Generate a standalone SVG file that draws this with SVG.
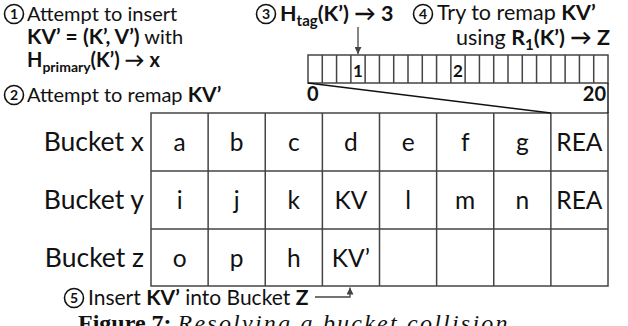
<svg xmlns="http://www.w3.org/2000/svg" width="628" height="326" viewBox="0 0 628 326">
<defs>
<style>
.t{font-family:Lato,"DejaVu Sans",sans-serif;fill:#111}
.h{font-size:20px}
.h2{font-size:21.5px}
.b{font-weight:bold}
.cell{font-size:24.5px;text-anchor:middle}
.lab{font-size:26.5px;text-anchor:end}
.num{font-size:17px;font-weight:bold;text-anchor:middle}
.circ{fill:none;stroke:#111;stroke-width:1.6}
.cn{font-size:14px;font-weight:bold;text-anchor:middle}
.grid{fill:none;stroke:#444;stroke-width:1.5}
.arr{fill:none;stroke:#444;stroke-width:1.3}
.ln{fill:none;stroke:#111;stroke-width:1.4}
</style>
<marker id="ah" viewBox="0 0 10 10" refX="10" refY="5" markerWidth="7" markerHeight="7" markerUnits="userSpaceOnUse" orient="auto">
<path d="M0,0 L10,5 L0,10 z" fill="#444"/>
</marker>
</defs>

<g id="step1">
<circle class="circ" cx="14" cy="14" r="9.5"/>
<text class="t cn" x="14" y="19">1</text>
<text class="t h" x="27" y="21">Attempt to insert</text>
<text class="t h" x="27" y="44"><tspan class="b" font-size="21">KV’ = (K’, V’)</tspan> with</text>
<text class="t h b" x="27" y="67">H<tspan font-size="14" dy="5">primary</tspan><tspan dy="-5">(K’) → x</tspan></text>
</g>

<g id="step2">
<circle class="circ" cx="14" cy="95" r="9.5"/>
<text class="t cn" x="14" y="100">2</text>
<text class="t h" x="27" y="102">Attempt to remap <tspan class="b" font-size="21">KV’</tspan></text>
</g>

<g id="step3">
<circle class="circ" cx="266" cy="14" r="9.5"/>
<text class="t cn" x="266" y="19">3</text>
<text class="t h2 b" x="280" y="21">H<tspan font-size="15" dy="5">tag</tspan><tspan dy="-5">(K’) → 3</tspan></text>
</g>

<g id="step4">
<circle class="circ" cx="423" cy="14" r="9.5"/>
<text class="t cn" x="423" y="19">4</text>
<text class="t h2" x="437" y="20">Try to remap <tspan class="b">KV’</tspan></text>
<text class="t h2" x="610" y="45" text-anchor="end">using <tspan class="b">R</tspan><tspan class="b" font-size="15" dy="5">1</tspan><tspan class="b" dy="-5">(K’) → Z</tspan></text>
</g>

<g id="tag-array">
<rect class="grid" x="308" y="55" width="300" height="28" stroke-width="1.2"/>
<path class="grid" stroke-width="1.2" d="M322.29 55V83M336.57 55V83M350.86 55V83M365.14 55V83M379.43 55V83M393.71 55V83M408 55V83M422.29 55V83M436.57 55V83M450.86 55V83M465.14 55V83M479.43 55V83M493.71 55V83M508 55V83M522.29 55V83M536.57 55V83M550.86 55V83M565.14 55V83M579.43 55V83M593.71 55V83"/>
<text class="t num" x="358" y="77">1</text>
<text class="t num" x="458" y="77">2</text>
<text class="t h b" x="307" y="101">0</text>
<text class="t h b" x="606" y="101" text-anchor="end">20</text>
</g>

<g id="table">
<rect class="grid" x="151" y="113" width="457" height="173"/>
<path class="grid" d="M151 171H608M151 229H608M208.13 113V286M265.25 113V286M322.38 113V286M379.5 113V286M436.63 113V286M493.75 113V286M550.88 113V286"/>
<text class="t lab" x="144" y="151">Bucket x</text>
<text class="t lab" x="144" y="209">Bucket y</text>
<text class="t lab" x="144" y="267">Bucket z</text>
<g class="t cell">
<text x="179.6" y="151">a</text><text x="236.7" y="151">b</text><text x="293.8" y="151">c</text><text x="350.9" y="151">d</text><text x="408.1" y="151">e</text><text x="465.2" y="151">f</text><text x="522.3" y="151">g</text><text x="579.4" y="151">REA</text>
<text x="179.6" y="209">i</text><text x="236.7" y="209">j</text><text x="293.8" y="209">k</text><text x="350.9" y="209">KV</text><text x="408.1" y="209">l</text><text x="465.2" y="209">m</text><text x="522.3" y="209">n</text><text x="579.4" y="209">REA</text>
<text x="179.6" y="267">o</text><text x="236.7" y="267">p</text><text x="293.8" y="267">h</text><text x="350.9" y="267">KV’</text>
</g>
</g>

<g id="step5">
<circle class="circ" cx="74" cy="298" r="9.5"/>
<text class="t cn" x="74" y="303">5</text>
<text class="t" font-size="21" x="88" y="305">Insert <tspan class="b">KV’</tspan> into Bucket <tspan class="b">Z</tspan></text>
</g>

<g id="connectors">
<path class="ln" d="M308 83L550.88 113M608 83V113"/>
<path class="arr" d="M358 27V54" marker-end="url(#ah)"/>
<path class="arr" d="M315 297H350V287.5" marker-end="url(#ah)"/>
</g>

<text x="78" y="331" font-family="Liberation Serif,serif" font-size="24" fill="#111"><tspan font-weight="bold">Figure 7:</tspan> <tspan font-style="italic" textLength="330" lengthAdjust="spacing">Resolving a bucket collision</tspan></text>
</svg>
